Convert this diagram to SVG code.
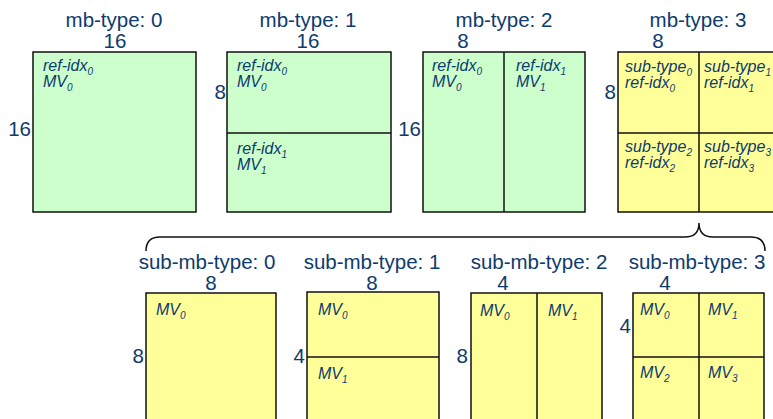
<svg xmlns="http://www.w3.org/2000/svg" width="773" height="419" viewBox="0 0 773 419">
<style>
.g{fill:#ccffcc;stroke:#111;stroke-width:1.5}
.y{fill:#ffff99;stroke:#111;stroke-width:1.5}
.d{stroke:#111;stroke-width:1.5;fill:none}
.t{font-family:"Liberation Sans",Arial,sans-serif;font-size:20.5px;fill:#0d3b6e}
.c{text-anchor:middle}
.e{text-anchor:end}
.i{font-family:"Liberation Sans",Arial,sans-serif;font-size:16px;font-style:italic;fill:#0d3b6e}
.s{font-size:10px}
</style>
<rect width="773" height="419" fill="#fff"/>
<g id="connectors">
<path class="d" d="M146,251 Q146,237 160,237 H685 Q699,237 699,223 Q699,237 713,237 H751 Q765,237 765,251"/>
</g>
<g id="mb0">
<text class="t c" x="114" y="27">mb-type: 0</text>
<text class="t c" x="115" y="48">16</text>
<text class="t e" x="31" y="136">16</text>
<rect class="g" x="33" y="52" width="163" height="160"/>
<text class="i" x="43" y="71">ref-idx<tspan class="s" dy="4">0</tspan></text>
<text class="i" x="43" y="87">MV<tspan class="s" dy="4">0</tspan></text>
</g>
<g id="mb1">
<text class="t c" x="308" y="27">mb-type: 1</text>
<text class="t c" x="308" y="48">16</text>
<text class="t e" x="226" y="99">8</text>
<rect class="g" x="227" y="52" width="164" height="160"/>
<line class="d" x1="227" y1="133" x2="391" y2="133"/>
<text class="i" x="237" y="71">ref-idx<tspan class="s" dy="4">0</tspan></text>
<text class="i" x="237" y="87">MV<tspan class="s" dy="4">0</tspan></text>
<text class="i" x="237" y="154">ref-idx<tspan class="s" dy="4">1</tspan></text>
<text class="i" x="237" y="170">MV<tspan class="s" dy="4">1</tspan></text>
</g>
<g id="mb2">
<text class="t c" x="504" y="27">mb-type: 2</text>
<text class="t c" x="463" y="48">8</text>
<text class="t e" x="421" y="136">16</text>
<rect class="g" x="423" y="52" width="162" height="160"/>
<line class="d" x1="504" y1="52" x2="504" y2="212"/>
<text class="i" x="432" y="71">ref-idx<tspan class="s" dy="4">0</tspan></text>
<text class="i" x="432" y="87">MV<tspan class="s" dy="4">0</tspan></text>
<text class="i" x="516" y="71">ref-idx<tspan class="s" dy="4">1</tspan></text>
<text class="i" x="516" y="87">MV<tspan class="s" dy="4">1</tspan></text>
</g>
<g id="mb3">
<text class="t c" x="698" y="27">mb-type: 3</text>
<text class="t c" x="658" y="48">8</text>
<text class="t e" x="616" y="99">8</text>
<rect class="y" x="618" y="52" width="162" height="160"/>
<line class="d" x1="699" y1="52" x2="699" y2="212"/>
<line class="d" x1="618" y1="133" x2="780" y2="133"/>
<text class="i" x="625" y="72">sub-type<tspan class="s" dy="4">0</tspan></text>
<text class="i" x="625" y="88">ref-idx<tspan class="s" dy="4">0</tspan></text>
<text class="i" x="704" y="72">sub-type<tspan class="s" dy="4">1</tspan></text>
<text class="i" x="704" y="88">ref-idx<tspan class="s" dy="4">1</tspan></text>
<text class="i" x="625" y="152">sub-type<tspan class="s" dy="4">2</tspan></text>
<text class="i" x="625" y="168">ref-idx<tspan class="s" dy="4">2</tspan></text>
<text class="i" x="704" y="152">sub-type<tspan class="s" dy="4">3</tspan></text>
<text class="i" x="704" y="168">ref-idx<tspan class="s" dy="4">3</tspan></text>
</g>
<g id="sub0">
<text class="t c" x="207" y="269">sub-mb-type: 0</text>
<text class="t c" x="211" y="290">8</text>
<text class="t e" x="144" y="363">8</text>
<rect class="y" x="146" y="293" width="130" height="150"/>
<text class="i" x="156" y="315">MV<tspan class="s" dy="4">0</tspan></text>
</g>
<g id="sub1">
<text class="t c" x="372" y="269">sub-mb-type: 1</text>
<text class="t c" x="372" y="290">8</text>
<text class="t e" x="305" y="363">4</text>
<rect class="y" x="307" y="292" width="132" height="150"/>
<line class="d" x1="307" y1="357" x2="439" y2="357"/>
<text class="i" x="318" y="315">MV<tspan class="s" dy="4">0</tspan></text>
<text class="i" x="318" y="379">MV<tspan class="s" dy="4">1</tspan></text>
</g>
<g id="sub2">
<text class="t c" x="539" y="269">sub-mb-type: 2</text>
<text class="t c" x="503" y="290">4</text>
<text class="t e" x="468" y="363">8</text>
<rect class="y" x="471" y="293" width="131" height="150"/>
<line class="d" x1="537" y1="293" x2="537" y2="443"/>
<text class="i" x="480" y="316">MV<tspan class="s" dy="4">0</tspan></text>
<text class="i" x="548" y="316">MV<tspan class="s" dy="4">1</tspan></text>
</g>
<g id="sub3">
<text class="t c" x="697" y="269">sub-mb-type: 3</text>
<text class="t c" x="665" y="290">4</text>
<text class="t e" x="631" y="333">4</text>
<rect class="y" x="633" y="293" width="131" height="150"/>
<line class="d" x1="699" y1="293" x2="699" y2="443"/>
<line class="d" x1="633" y1="357" x2="764" y2="357"/>
<text class="i" x="640" y="315">MV<tspan class="s" dy="4">0</tspan></text>
<text class="i" x="708" y="315">MV<tspan class="s" dy="4">1</tspan></text>
<text class="i" x="640" y="378">MV<tspan class="s" dy="4">2</tspan></text>
<text class="i" x="708" y="378">MV<tspan class="s" dy="4">3</tspan></text>
</g>
</svg>
